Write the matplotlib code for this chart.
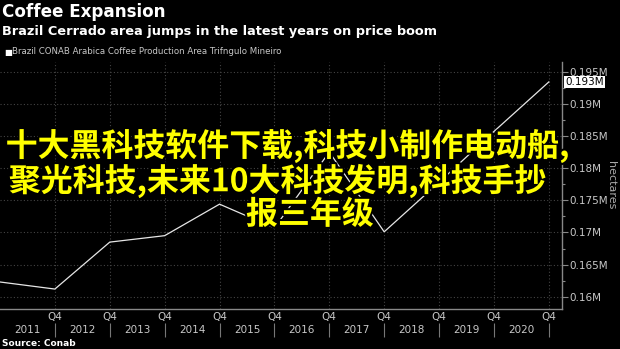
import numpy as np
import matplotlib
matplotlib.use('Agg')
import matplotlib.pyplot as plt
import matplotlib.transforms as mtrans
import matplotlib.patheffects as pe
from matplotlib.ticker import MultipleLocator, FuncFormatter

# data (hectares), annual Q4 readings 2010 Q4 .. 2020 Q4
area = [162300, 161200, 168500, 169500, 174400, 170700, 182500, 170100, 177800, 185700, 193400]
years = ['2011', '2012', '2013', '2014', '2015', '2016', '2017', '2018', '2019', '2020']
q4_labels = ['Q4'] * len(years)
last_label = '0.193M'

title = 'Coffee Expansion'
subtitle = 'Brazil Cerrado area jumps in the latest years on price boom'
series_name = 'Brazil CONAB Arabica Coffee Production Area Trifngulo Mineiro'
source = 'Source: Conab'
overlay = ['十大黑科技软件下载,科技小制作电动船,',
           '聚光科技,未来10大科技发明,科技手抄',
           '报三年级']

W, H = 620, 349
narrow = ['Liberation Sans Narrow', 'DejaVu Sans']
cjk = ['Noto Sans CJK SC', 'DejaVu Sans']
grey = '#c8c8c8'
gridc = '#444444'

fig = plt.figure(figsize=(W/100, H/100), dpi=100, facecolor='black')
ax = fig.add_axes([0, 1-309/H, 562/W, (309-62)/H])
ax.set_facecolor('black')

periods = np.arange(len(area))
ax.plot(periods, area, color='#e6e6e6', lw=0.9, solid_joinstyle='miter')

ax.set_xlim(0, 10.24)
ax.set_ylim(158100, 196500)

# x axis: Q4 ticks + year labels between them
ax.set_xticks(periods[1:])
ax.set_xticklabels(q4_labels, fontsize=7.5, color=grey, family=narrow)
ax.tick_params(axis='x', length=0, pad=2)
blend = mtrans.blended_transform_factory(ax.transData, ax.transAxes)
for i, yr in enumerate(years):
    ax.text(i + 0.5, -0.087, yr, transform=blend, ha='center', va='center',
            fontsize=7.5, color=grey, family=narrow)
ax.vlines(periods[1:], -0.113, -0.057, transform=blend, color='#777777',
          lw=0.8, clip_on=False)

# y axis on right
ax.yaxis.tick_right()
ax.yaxis.set_major_locator(MultipleLocator(5000))
ax.yaxis.set_minor_locator(MultipleLocator(2500))
ax.yaxis.set_major_formatter(FuncFormatter(lambda v, p: '{:g}M'.format(round(v/1e6, 4))))
ax.tick_params(axis='y', which='major', length=4, width=0.8, color='#888888',
               labelsize=7.5, labelcolor=grey, pad=1)
ax.tick_params(axis='y', which='minor', length=2, width=0.8, color='#888888')
for lab in ax.get_yticklabels():
    lab.set_family(narrow)

ax.grid(True, which='major', color=gridc, ls=(0, (1, 2)), lw=0.8)
for s in ['top', 'left']:
    ax.spines[s].set_visible(False)
for s in ['right', 'bottom']:
    ax.spines[s].set_color('#888888')
    ax.spines[s].set_linewidth(1.0)

# last value box
yblend = mtrans.blended_transform_factory(ax.transAxes, ax.transData)
ax.text(1.006, area[-1], last_label, transform=yblend, ha='left', va='center',
        fontsize=7.5, color='black', family=narrow,
        bbox=dict(boxstyle='square,pad=0.12', fc='white', ec='none'))

fig.text(611/W, 1-185/H, 'hectares', rotation=270, ha='center', va='center',
         fontsize=8, color='#aaaaaa')

# titles
fig.text(2/W, 1-12/H, title, ha='left', va='center', fontsize=12.1,
         fontweight='bold', color='white')
fig.text(2/W, 1-31/H, subtitle, ha='left', va='center', fontsize=9.3,
         fontweight='bold', color='white')
fig.text(4/W, 1-52/H, '■', ha='left', va='center', fontsize=6, color='white')
fig.text(12/W, 1-52/H, series_name, ha='left', va='center', fontsize=6.2,
         color=grey, family=narrow)
fig.text(2/W, 1-343/H, source, ha='left', va='center', fontsize=6.5,
         fontweight='bold', color='white')

# overlay caption
stroke = [pe.withStroke(linewidth=3, foreground='black')]
for txt, xc, yc in zip(overlay, [288, 278, 310], [146, 181, 215]):
    fig.text(xc/W, 1-yc/H, txt, ha='center', va='center', fontsize=23,
             fontweight='bold', color='#ffff00', family=cjk, path_effects=stroke)

fig.savefig('out.png', dpi=100, facecolor='black')
